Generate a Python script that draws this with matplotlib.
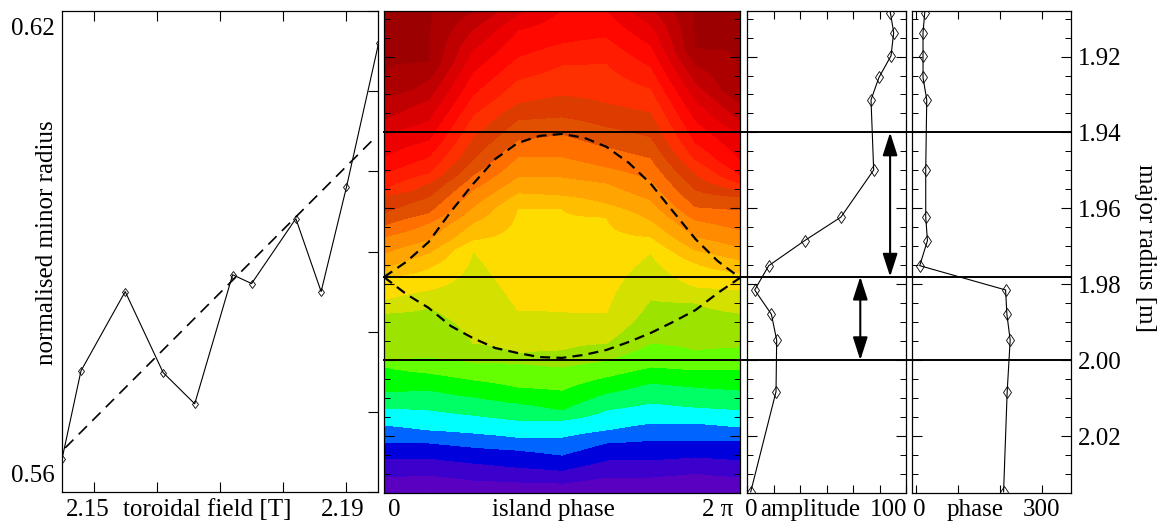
import numpy as np
import matplotlib
matplotlib.use("Agg")
import matplotlib.pyplot as plt
from matplotlib.colors import ListedColormap
from matplotlib.ticker import MultipleLocator, FixedLocator, NullFormatter
import matplotlib.transforms as mtransforms
from matplotlib.lines import Line2D

plt.rcParams['font.family'] = ['Liberation Serif', 'DejaVu Serif']
plt.rcParams['font.size'] = 18

# ---------------- left panel: minor radius vs toroidal field ----------------
toroidal_field = [2.1450, 2.1480, 2.1550, 2.1610, 2.1660, 2.1720, 2.1750, 2.1820, 2.1860, 2.1900, 2.1951]
minor_radius = [0.5641, 0.5751, 0.5850, 0.5749, 0.5710, 0.5871, 0.5860, 0.5941, 0.5850, 0.5980, 0.6160]
fit_field = [2.1455, 2.1944]
fit_radius = [0.5655, 0.6041]
field_ticks = [2.15, 2.16, 2.17, 2.18, 2.19]
radius_ticks = [0.56, 0.57, 0.58, 0.59, 0.60, 0.61, 0.62]

# ---------------- right panels: amplitude and phase profiles ----------------
major_radius = [1.9084, 1.9137, 1.9198, 1.9255, 1.9314, 1.9499, 1.9623, 1.9685,
                1.9751, 1.9815, 1.9879, 1.9947, 2.0083, 2.0347]
amplitude = [108.2, 110.7, 108.7, 99.6, 93.6, 95.6, 70.9, 43.5, 16.4, 5.8, 18.4, 22.4, 21.9, 2.8]
phase = [19.9, 15.8, 15.8, 15.8, 24.7, 22.3, 22.3, 26.4, 7.9, 213.6, 216.7, 224.6, 217.4, 208.8]
radius_major_ticks = [1.92, 1.94, 1.96, 1.98, 2.00, 2.02]
amp_ticks = [0, 20, 40, 60, 80, 100, 120]
phase_ticks = [0, 100, 200, 300]

# island limits (horizontal lines) and arrows
island_lines = [1.94, 1.978, 2.00]
arrow_amp = [108.0, 85.5]
arrow_start = [1.94, 1.978]
arrow_end = [1.978, 2.00]

# separatrix (phase in units of pi)
sep_phase = [0, 0.125, 0.25, 0.375, 0.5, 0.625, 0.75, 0.875, 1.0,
             1.125, 1.25, 1.375, 1.5, 1.625, 1.75, 1.875, 2.0]
sep_upper = [1.9781, 1.9741, 1.9689, 1.9609, 1.9536, 1.9470, 1.9428, 1.9409, 1.9404,
             1.9414, 1.9438, 1.9480, 1.9536, 1.9609, 1.9681, 1.9739, 1.9783]
sep_lower = [1.9781, 1.9826, 1.9862, 1.9910, 1.9942, 1.9968, 1.9981, 1.9992, 1.9994,
             1.9986, 1.9973, 1.9952, 1.9928, 1.9899, 1.9868, 1.9823, 1.9783]

# ---------------- contour panel: colour bands ----------------
band_colors = ['#7800C8', '#5A00C0', '#3C00CC', '#0000DC', '#0064FF', '#00FFFF',
               '#00FF64', '#00FF00', '#64FF00', '#9CE400', '#D4E000', '#FFDC00',
               '#FFBE00', '#FFA400', '#FF8C00', '#FF7000', '#E05000', '#DC3C00',
               '#FF3000', '#FF1C00', '#FF0800', '#EC0000', '#D80000', '#C00000',
               '#AC0000', '#9C0000']
contour_phase = [0, 0.25, 0.5, 0.75, 1.0, 1.25, 1.5, 1.75, 2.0]   # units of pi
# major radius of the boundary between band k and k-1 (k = 25 ... 1) for each phase column
band_edges = [
    [1.9280, 1.9306, 1.9367, 1.9401, 1.9464, 1.9507, 1.9551, 1.9565, 1.9612, 1.9644, 1.9675, 1.9718, 1.9757,
     1.9781, 1.9841, 1.9876, 2.0005, 2.0018, 2.0084, 2.0126, 2.0171, 2.0216, 2.0258, 2.0308, 2.0369],
    [1.9214, 1.9261, 1.9314, 1.9367, 1.9420, 1.9464, 1.9507, 1.9533, 1.9570, 1.9612, 1.9638, 1.9683, 1.9718,
     1.9757, 1.9815, 1.9860, 1.9992, 2.0034, 2.0079, 2.0131, 2.0184, 2.0218, 2.0258, 2.0303, 2.0342],
    [1.9051, 1.9082, 1.9130, 1.9182, 1.9240, 1.9301, 1.9354, 1.9412, 1.9472, 1.9512, 1.9551, 1.9596, 1.9638,
     1.9683, 1.9710, 1.9955, 2.0005, 2.0052, 2.0097, 2.0145, 2.0192, 2.0229, 2.0271, 2.0316, 2.0350],
    [1.8932, 1.8971, 1.9024, 1.9090, 1.9130, 1.9201, 1.9261, 1.9322, 1.9367, 1.9420, 1.9464, 1.9517, 1.9559,
     1.9599, 1.9868, 1.9981, 2.0008, 2.0071, 2.0113, 2.0158, 2.0203, 2.0237, 2.0282, 2.0321, 2.0356],
    [1.8892, 1.8932, 1.8971, 1.9024, 1.9074, 1.9164, 1.9222, 1.9301, 1.9359, 1.9404, 1.9464, 1.9517, 1.9565,
     1.9599, 1.9873, 1.9973, 2.0018, 2.0079, 2.0131, 2.0158, 2.0203, 2.0250, 2.0290, 2.0324, 2.0356],
    [1.8932, 1.8971, 1.9011, 1.9051, 1.9077, 1.9148, 1.9217, 1.9322, 1.9385, 1.9438, 1.9491, 1.9533, 1.9586,
     1.9623, 1.9876, 1.9955, 2.0000, 2.0044, 2.0087, 2.0131, 2.0184, 2.0218, 2.0263, 2.0308, 2.0350],
    [1.9011, 1.9043, 1.9072, 1.9116, 1.9169, 1.9227, 1.9283, 1.9346, 1.9412, 1.9467, 1.9525, 1.9578, 1.9631,
     1.9675, 1.9718, 1.9841, 1.9955, 2.0018, 2.0060, 2.0113, 2.0166, 2.0211, 2.0263, 2.0308, 2.0356],
    [1.9177, 1.9222, 1.9267, 1.9314, 1.9367, 1.9428, 1.9472, 1.9507, 1.9551, 1.9596, 1.9631, 1.9675, 1.9710,
     1.9744, 1.9807, 1.9849, 1.9973, 2.0026, 2.0071, 2.0124, 2.0166, 2.0211, 2.0255, 2.0298, 2.0350],
    [1.9288, 1.9322, 1.9367, 1.9401, 1.9472, 1.9512, 1.9533, 1.9551, 1.9570, 1.9604, 1.9657, 1.9702, 1.9736,
     1.9770, 1.9815, 1.9876, 1.9965, 2.0026, 2.0079, 2.0131, 2.0176, 2.0211, 2.0263, 2.0308, 2.0361],
]
R_limits = (2.0350, 1.9080)

# ---------------- figure ----------------
W, H = 1157, 526
fig = plt.figure(figsize=(W / 100, H / 100), dpi=100)


def add_ax(x0, x1, y0, y1):
    return fig.add_axes([x0 / W, 1 - y1 / H, (x1 - x0) / W, (y1 - y0) / H])


ax1 = add_ax(62, 378, 11, 492)
axc = add_ax(384, 740, 11, 493)
axa = add_ax(747, 906, 11, 493)
axp = add_ax(912, 1071, 11, 493)
for ax in (ax1, axc, axa, axp):
    for s in ax.spines.values():
        s.set_linewidth(0.9)


def label(ax, text, x, xc, dx, dy, ha='center', va='baseline', rot=0):
    ax.annotate(text, xy=(x, 0 if xc != 'y' else x), xycoords=xc, xytext=(dx, dy),
                textcoords='offset pixels', ha=ha, va=va, rotation=rot, annotation_clip=False)


# ---- left panel
ax1.plot(toroidal_field, minor_radius, color='k', lw=0.8, marker='d', ms=4.5, mfc='none', mew=0.6)
ax1.plot(fit_field, fit_radius, color='k', lw=1.2, ls=(0, (7, 4.5)))
ax1.set_xlim(2.145, 2.195)
ax1.set_ylim(0.56, 0.62)
ax1.set_xticks(field_ticks)
ax1.set_xticklabels([])
ax1.set_yticks(radius_ticks)
ax1.set_yticklabels([])
ax1.tick_params(axis='x', direction='in', top=True, bottom=True, length=7, width=0.8)
ax1.tick_params(axis='y', direction='in', left=False, right=True, length=7, width=0.8)
ax1.annotate('0.62', xy=(0, radius_ticks[-1]), xycoords=('axes fraction', 'data'), xytext=(-7, -18),
             textcoords='offset pixels', ha='right', va='center')
ax1.annotate('0.56', xy=(0, radius_ticks[0]), xycoords=('axes fraction', 'data'), xytext=(-7, 16),
             textcoords='offset pixels', ha='right', va='center')
ax1.annotate('2.15', xy=(field_ticks[0], 0), xycoords=('data', 'axes fraction'), xytext=(-6, -24),
             textcoords='offset pixels', ha='center', va='baseline')
ax1.annotate('2.19', xy=(field_ticks[-1], 0), xycoords=('data', 'axes fraction'), xytext=(-4, -24),
             textcoords='offset pixels', ha='center', va='baseline')
ax1.annotate('toroidal field [T]', xy=(0.459, 0), xycoords='axes fraction', xytext=(0, -24),
             textcoords='offset pixels', ha='center', va='baseline')
ax1.text(-0.0475, 0.519, 'normalised minor radius', transform=ax1.transAxes, rotation=90,
         ha='center', va='center')

# ---- contour panel
phi = np.pi * np.array(contour_phase)
R_fine = np.linspace(1.90, 2.04, 561)
edge_values = [25.4] + list(np.arange(24.5, 0, -1.0)) + [-0.4]
Z = np.column_stack([np.interp(R_fine, [1.80] + list(e) + [2.20], edge_values) for e in band_edges])
axc.contourf(phi, R_fine, Z, levels=np.arange(-0.5, 26, 1.0), cmap=ListedColormap(band_colors),
             antialiased=False)
axc.plot(np.pi * np.array(sep_phase), sep_upper, color='k', lw=1.6, ls=(0, (4.5, 2.8)))
axc.plot(np.pi * np.array(sep_phase), sep_lower, color='k', lw=1.6, ls=(0, (4.5, 2.8)))
axc.set_xlim(0, 2 * np.pi)
axc.set_ylim(*R_limits)
axc.set_xticks([])
axc.annotate('0', xy=(0, 0), xycoords='axes fraction', xytext=(10, -23),
             textcoords='offset pixels', ha='center', va='baseline')
axc.annotate('2 π', xy=(1, 0), xycoords='axes fraction', xytext=(-22, -23),
             textcoords='offset pixels', ha='center', va='baseline')
axc.annotate('island phase', xy=(0.475, 0), xycoords='axes fraction', xytext=(0, -23),
             textcoords='offset pixels', ha='center', va='baseline')

# ---- amplitude panel
axa.plot(amplitude, major_radius, color='k', lw=0.8, marker='d', ms=6, mfc='none', mew=0.6)
axa.set_xlim(0, 120)
axa.set_ylim(*R_limits)
axa.set_xticks(amp_ticks)
axa.set_xticklabels([])
axa.tick_params(axis='x', direction='in', top=True, bottom=True, length=6, width=0.8)
axa.annotate('0', xy=(amp_ticks[0], 0), xycoords=('data', 'axes fraction'), xytext=(4, -23),
             textcoords='offset pixels', ha='center', va='baseline')
axa.annotate('100', xy=(amp_ticks[5], 0), xycoords=('data', 'axes fraction'), xytext=(9, -23),
             textcoords='offset pixels', ha='center', va='baseline')
axa.annotate('amplitude', xy=(0.40, 0), xycoords='axes fraction', xytext=(0, -23),
             textcoords='offset pixels', ha='center', va='baseline')
for xa, r0, r1 in zip(arrow_amp, arrow_start, arrow_end):
    axa.annotate('', xy=(xa, r0), xytext=(xa, r1), xycoords='data',
                 arrowprops=dict(arrowstyle='<|-|>,head_length=1.4,head_width=0.45', color='k',
                                 lw=1.5, shrinkA=0, shrinkB=0, mutation_scale=10))

# ---- phase panel
axp.plot(phase, major_radius, color='k', lw=0.8, marker='d', ms=6, mfc='none', mew=0.6)
axp.set_xlim(-10.6, 370.3)
axp.set_ylim(*R_limits)
axp.set_xticks(phase_ticks)
axp.set_xticklabels([])
axp.tick_params(axis='x', direction='in', top=True, bottom=True, length=6, width=0.8)
axp.annotate('0', xy=(phase_ticks[0], 0), xycoords=('data', 'axes fraction'), xytext=(3, -23),
             textcoords='offset pixels', ha='center', va='baseline')
axp.annotate('300', xy=(phase_ticks[-1], 0), xycoords=('data', 'axes fraction'), xytext=(0, -23),
             textcoords='offset pixels', ha='center', va='baseline')
axp.annotate('phase', xy=(0.396, 0), xycoords='axes fraction', xytext=(0, -23),
             textcoords='offset pixels', ha='center', va='baseline')

# shared radius ticks
for ax in (axc, axa, axp):
    ax.yaxis.set_major_locator(FixedLocator(radius_major_ticks))
    ax.yaxis.set_minor_locator(MultipleLocator(0.005))
    ax.tick_params(axis='y', which='major', direction='in', left=True, right=True, length=7, width=0.8)
    ax.tick_params(axis='y', which='minor', direction='in', left=True, right=True, length=4, width=0.7)
    ax.set_yticklabels([])
axp.set_yticks(radius_major_ticks)
axp.set_yticklabels(['%.2f' % v for v in radius_major_ticks])
axp.tick_params(axis='y', which='major', labelleft=False, labelright=True, pad=5)

fig.text(1145 / W, 1 - 248 / H, 'major radius [m]', rotation=-90, ha='center', va='center')

# horizontal island lines across contour, amplitude and phase panels
trans = mtransforms.blended_transform_factory(fig.transFigure, axc.transData)
for r in island_lines:
    fig.add_artist(Line2D([384 / W, 1071 / W], [r, r], transform=trans, color='k', lw=1.4))

fig.savefig('out.png', dpi=100)
